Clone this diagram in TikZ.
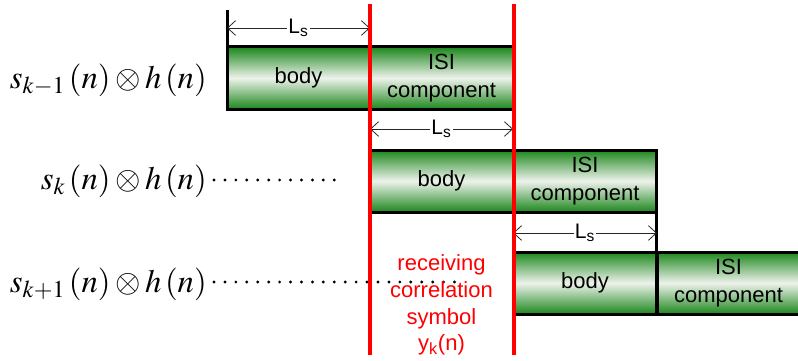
\documentclass[tikz,border=0pt]{standalone}
\usepackage{mathptmx}
\usepackage[no-math]{fontspec}
\setmainfont{Liberation Sans}
\usetikzlibrary{arrows.meta}
\definecolor{gdark}{RGB}{28,134,28}
\definecolor{glight}{RGB}{238,243,236}
\tikzset{
  seg/.style={draw=black, line width=2.25pt, top color=gdark, bottom color=gdark,
    middle color=glight, minimum width=107.25pt, minimum height=46.5pt,
    inner sep=0pt, outer sep=0pt, font=\fontsize{16.5}{21}\selectfont, align=center},
  dimarrow/.style={draw=black!85, line width=0.6pt,
    {Straight Barb[length=6pt,width=11pt]}-{Straight Barb[length=6pt,width=11pt]}},
  dimlbl/.style={fill=white, inner sep=1pt, font=\fontsize{15.75}{18}\selectfont},
  tickline/.style={line width=2.25pt, black},
  redline/.style={line width=3pt, red},
  dotline/.style={line width=2.4pt, line cap=round, dash pattern=on 0pt off 8.2pt},
  mathlbl/.style={inner sep=0pt, font=\fontsize{24.5}{28}\selectfont},
  redtxt/.style={text=red, align=center, inner sep=0pt, font=\fontsize{16.5}{20}\selectfont}
}
\begin{document}
\begin{tikzpicture}[x=0.75pt,y=-0.75pt]
\useasboundingbox (0,0) rectangle (798,360);
\clip (0,0) rectangle (798,360);

% math labels
\node[mathlbl, anchor=base east] (m1) at (207,88) {$s_{k-1}\left(n\right)\otimes h\left(n\right)$};
\node[mathlbl, anchor=base east] (m2) at (207,189) {$s_{k}\left(n\right)\otimes h\left(n\right)$};
\node[mathlbl, anchor=base east] (m3) at (207,292) {$s_{k+1}\left(n\right)\otimes h\left(n\right)$};

% dotted leaders
\coordinate (d2a) at (214,180);
\coordinate (d2b) at (337,180);
\coordinate (d3a) at (214,282);
\coordinate (d3b) at (460,282);
\draw[dotline] (d2a) -- (d2b);
\draw[dotline] (d3a) -- (d3b);

% row 1
\node[seg] (b1) at (298.5,78) {body};
\node[seg] (i1) at (441.5,78) {ISI\\component};
% row 2
\node[seg] (b2) at (441.5,181) {body};
\node[seg] (i2) at (585,181) {ISI\\component};
% row 3
\node[seg] (b3) at (585,283) {body};
\node[seg] (i3) at (728.5,283) {ISI\\component};

% ticks
\coordinate (t1) at (227,10);
\draw[tickline] (t1) -- (b1.north west);
\draw[tickline] (i2.south east) -- (b3.north east);

% dimension arrows
\coordinate (a1l) at (227,28);
\coordinate (a1r) at (370,28);
\coordinate (a2l) at (370,129);
\coordinate (a2r) at (513,129);
\coordinate (a3l) at (513,233);
\coordinate (a3r) at (657,233);
\draw[dimarrow] (a1l) -- (a1r) node[midway, dimlbl] (l1) {L\textsubscript{s}};
\draw[dimarrow] (a2l) -- (a2r) node[midway, dimlbl] (l2) {L\textsubscript{s}};
\draw[dimarrow] (a3l) -- (a3r) node[midway, dimlbl] (l3) {L\textsubscript{s}};

% red text
\node[redtxt] (rt) at (441.5,305) {receiving\\correlation\\symbol\\y\textsubscript{k}(n)};

% red lines
\coordinate (r1t) at (370,4);
\coordinate (r1b) at (370,355);
\coordinate (r2t) at (514,4);
\coordinate (r2b) at (514,355);
\draw[redline] (r1t) -- (r1b);
\draw[redline] (r2t) -- (r2b);
\end{tikzpicture}
\end{document}
